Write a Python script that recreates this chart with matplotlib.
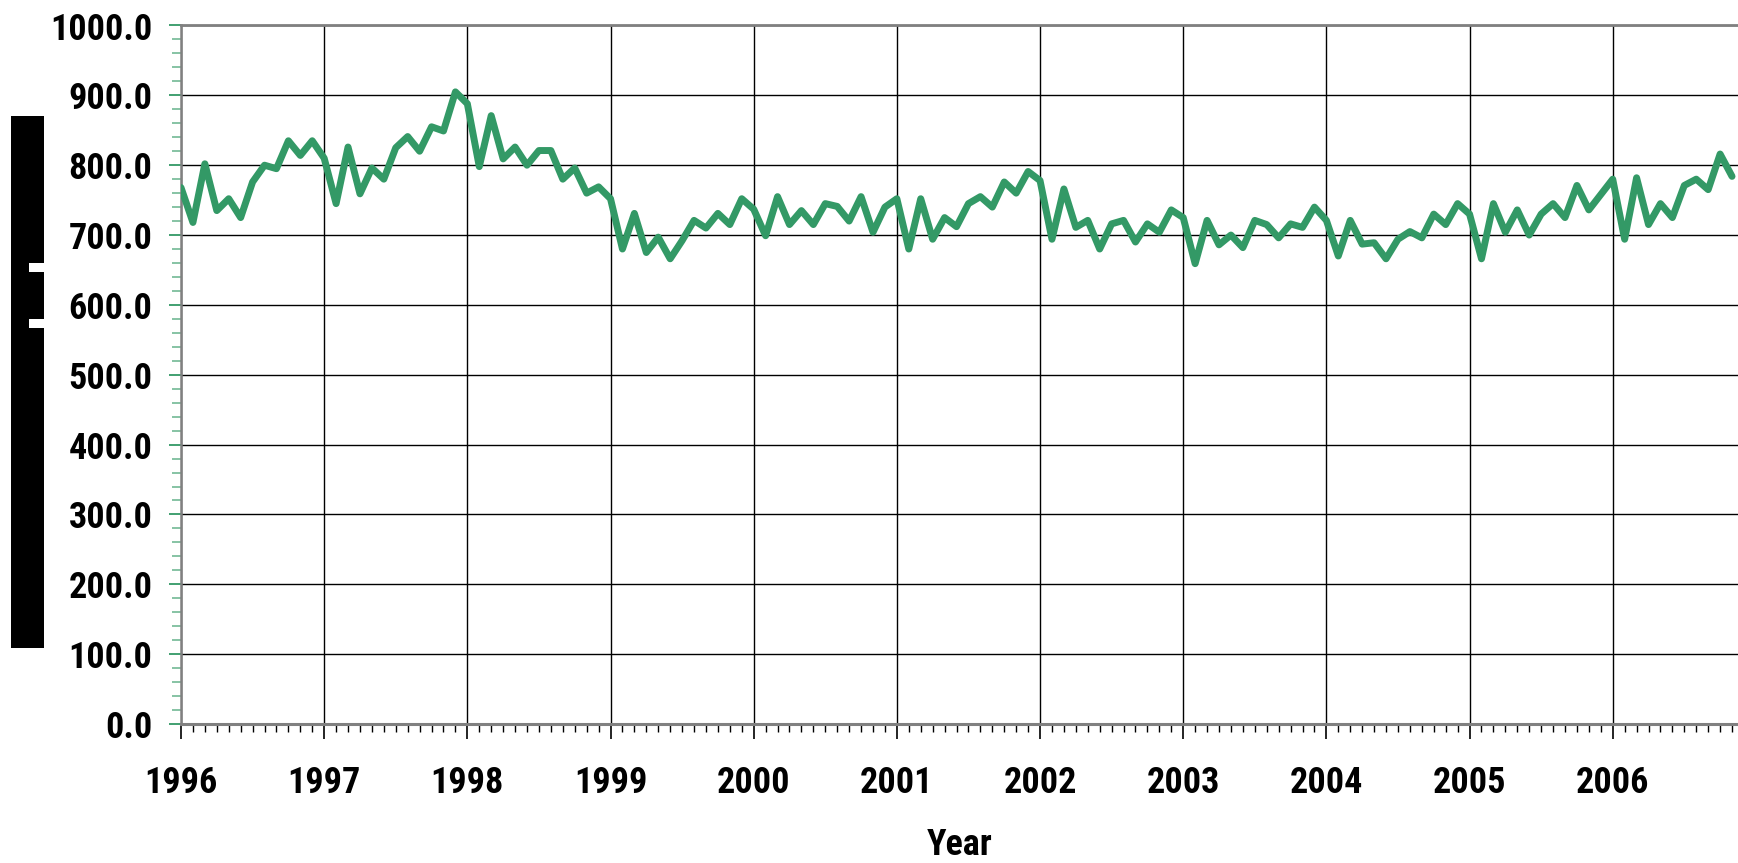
import matplotlib
matplotlib.use("Agg")
import matplotlib.pyplot as plt
from matplotlib import font_manager
from matplotlib.ticker import MultipleLocator, FixedLocator, FormatStrFormatter
from matplotlib.patches import Rectangle
import numpy as np

# ---- data (monthly values, Jan 1996 .. Nov 2006) ----
start_year = 1996
year_labels = [str(y) for y in range(1996, 2007)]
values = [
    768, 718, 802, 735, 752, 725, 776, 800, 795, 835, 814, 835,   # 1996
    810, 745, 826, 759, 796, 780, 825, 841, 820, 855, 849, 905,   # 1997
    888, 798, 871, 809, 826, 800, 821, 821, 780, 796, 760, 769,   # 1998
    752, 680, 731, 675, 697, 666, 692, 721, 710, 731, 715, 752,   # 1999
    737, 699, 755, 715, 735, 715, 745, 741, 720, 755, 704, 740,   # 2000
    752, 680, 752, 694, 725, 712, 745, 755, 740, 776, 760, 791,   # 2001
    778, 694, 766, 711, 721, 680, 716, 721, 690, 716, 704, 736,   # 2002
    725, 659, 721, 686, 700, 682, 721, 715, 696, 716, 711, 740,   # 2003
    721, 670, 721, 687, 689, 666, 694, 705, 696, 730, 715, 745,   # 2004
    730, 666, 745, 704, 736, 700, 730, 745, 725, 771, 736, 758,   # 2005
    780, 694, 782, 715, 745, 725, 771, 780, 765, 816, 784,        # 2006
]
x_label = "Year"

# ---- fonts ----
avail = {f.name for f in font_manager.fontManager.ttflist}
family = "Liberation Sans"
for cand in ["Liberation Sans Narrow", "Arial Narrow", "Roboto Condensed",
             "DejaVu Sans Condensed", "Liberation Sans"]:
    if cand in avail:
        family = cand
        break
plt.rcParams["font.family"] = [family, "DejaVu Sans"]

W, H = 1738, 863
fig = plt.figure(figsize=(W / 100, H / 100), dpi=100)
ax = fig.add_axes([181 / W, 1 - 724 / H, 1 - 181 / W, (724 - 25.5) / H])

green = "#339966"
months = np.arange(len(values))
ax.plot(months, values, color=green, lw=5.0, solid_joinstyle="round",
        solid_capstyle="round", zorder=3)

ax.set_xlim(0, 130.5)
ax.set_ylim(0, 1000)

# y axis
ax.yaxis.set_major_locator(MultipleLocator(100))
ax.yaxis.set_minor_locator(MultipleLocator(20))
ax.yaxis.set_major_formatter(FormatStrFormatter("%.1f"))
ax.tick_params(axis="y", which="major", direction="out", length=8.5, width=1.3,
               color=green, pad=12, labelsize=26)
ax.tick_params(axis="y", which="minor", direction="out", length=6.5, width=1.1,
               color="#66b38c")

# x axis
ax.xaxis.set_major_locator(FixedLocator([12 * i for i in range(len(year_labels))]))
ax.set_xticklabels(year_labels)
ax.xaxis.set_minor_locator(MultipleLocator(1))
ax.tick_params(axis="x", which="major", direction="out", length=10.5, width=1.2,
               color="black", pad=19, labelsize=26)
ax.tick_params(axis="x", which="minor", direction="out", length=5.5, width=1.0,
               color="black")

for lab in ax.get_xticklabels() + ax.get_yticklabels():
    lab.set_fontweight("bold")

ax.grid(True, which="major", color="black", lw=1.0, zorder=1)
ax.set_axisbelow(True)

for s in ["top", "bottom", "left"]:
    ax.spines[s].set_color("#808080")
ax.spines["top"].set_linewidth(2.0)
ax.spines["bottom"].set_linewidth(2.2)
ax.spines["left"].set_linewidth(1.8)
ax.spines["right"].set_visible(False)

fig.text((181 + W) / 2 / W, 1 - 855 / H, x_label, ha="center", va="baseline",
         fontsize=26, fontweight="bold")

# redacted y-axis label block on the left
def px_rect(x0, y0, x1, y1, color):
    fig.patches.append(Rectangle((x0 / W, 1 - y1 / H), (x1 - x0) / W, (y1 - y0) / H,
                                 transform=fig.transFigure, color=color, lw=0))

px_rect(11, 116, 44, 648, "black")
px_rect(29, 263, 44, 272, "white")
px_rect(29, 319, 44, 328, "white")

fig.savefig("out.png", dpi=100)
print(family)
